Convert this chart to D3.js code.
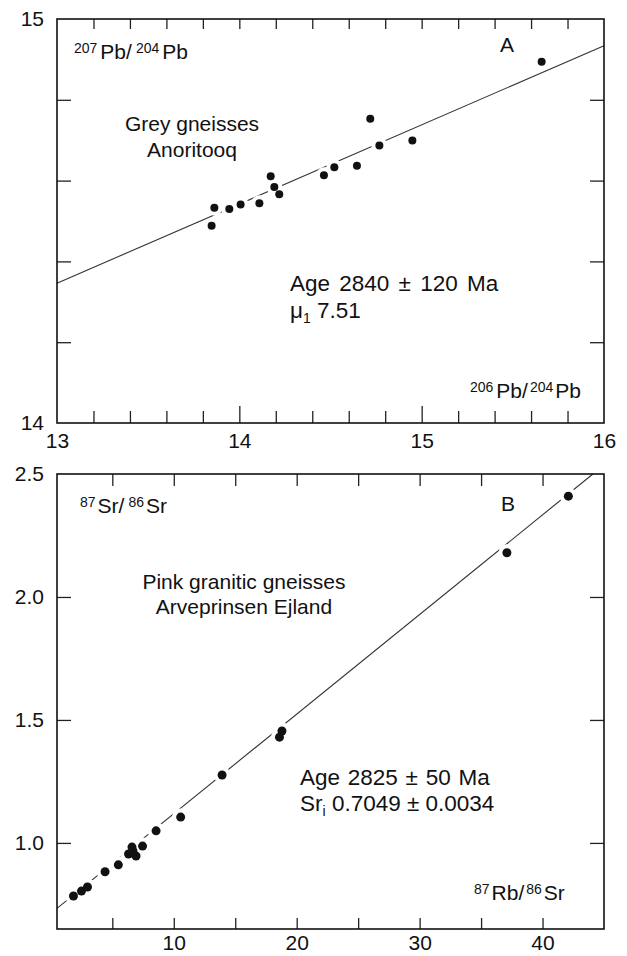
<!DOCTYPE html>
<html>
<head>
<meta charset="utf-8">
<script src="https://cdn.jsdelivr.net/npm/d3@7"></script>
<style>
  body { margin: 0; background: #fff; }
  svg { display: block; font-family: "Liberation Sans", Arial, sans-serif; }
</style>
</head>
<body>
<svg width="627" height="956"></svg>
<script>
// Panel A: 207Pb/204Pb vs 206Pb/204Pb
const pbX = [13.848, 13.863, 13.945, 14.007, 14.110, 14.172, 14.192, 14.219, 14.464, 14.521, 14.645, 14.718, 14.768, 14.949, 15.658];
const pbY = [14.488, 14.533, 14.530, 14.541, 14.544, 14.611, 14.584, 14.566, 14.613, 14.633, 14.637, 14.753, 14.687, 14.699, 14.894];
const pbLineX = [13, 16];
const pbLineY = [14.346, 14.934];
const pbXLabels = [13, 14, 15, 16];
const pbYLabels = [14, 15];

// Panel B: 87Sr/86Sr vs 87Rb/86Sr
const srX = [1.84, 2.49, 2.98, 4.41, 5.49, 6.32, 6.60, 6.93, 6.68, 7.46, 8.56, 10.56, 13.93, 18.6, 18.8, 37.1, 42.1];
const srY = [0.784, 0.804, 0.821, 0.883, 0.911, 0.955, 0.983, 0.947, 0.967, 0.987, 1.049, 1.105, 1.276, 1.43, 1.455, 2.18, 2.41];
const srLineX = [0.5, 44.1];
const srLineY = [0.734, 2.5];
const srXLabels = [10, 20, 30, 40];
const srYLabels = [1.0, 1.5, 2.0, 2.5];

const svg = d3.select("svg");
const left = 57, right = 604;

function richText(g, x, y, parts, opts) {
  opts = opts || {};
  const t = g.append("text")
    .attr("x", x).attr("y", y)
    .attr("font-size", opts.size || 21)
    .attr("fill", "#111")
    .attr("text-anchor", opts.anchor || "start");
  if (opts.ws) t.attr("word-spacing", opts.ws);
  let shift = 0;
  parts.forEach(p => {
    const s = t.append("tspan").text(p.t);
    let target = p.sup ? -6 : p.sub ? 5 : 0;
    s.attr("dy", target - shift);
    shift = target;
    if (p.sup || p.sub) s.attr("font-size", 14);
    if (p.dx) s.attr("dx", p.dx);
  });
  return t;
}

function panel(cfg) {
  const g = svg.append("g");
  const x = d3.scaleLinear().domain(cfg.xDomain).range([left, right]);
  const y = d3.scaleLinear().domain(cfg.yDomain).range([cfg.bottom, cfg.top]);
  const h = cfg.bottom - cfg.top;

  const tickStyle = sel => {
    sel.select(".domain").remove();
    sel.selectAll(".tick line").attr("stroke", "#222").attr("stroke-width", 1.3);
    sel.selectAll(".tick text").attr("font-size", 21).attr("fill", "#111")
      .attr("font-family", "Liberation Sans, Arial, sans-serif");
  };

  // inward ticks
  g.append("g").attr("transform", `translate(0,${cfg.bottom})`)
    .call(d3.axisBottom(x).tickValues(cfg.xMinor).tickSize(-cfg.bottomTick).tickFormat(""))
    .call(tickStyle);
  if (cfg.xMajor.length) {
    g.append("g").attr("transform", `translate(0,${cfg.bottom})`)
      .call(d3.axisBottom(x).tickValues(cfg.xMajor).tickSize(-cfg.bottomTick - 5).tickFormat(""))
      .call(tickStyle);
  }
  g.append("g").attr("transform", `translate(0,${cfg.top})`)
    .call(d3.axisTop(x).tickValues(cfg.xMinor.concat(cfg.xMajor)).tickSize(-cfg.topTick).tickFormat(""))
    .call(tickStyle);
  g.append("g").attr("transform", `translate(${left},0)`)
    .call(d3.axisLeft(y).tickValues(cfg.yTicks).tickSize(-14).tickFormat(""))
    .call(tickStyle);
  g.append("g").attr("transform", `translate(${right},0)`)
    .call(d3.axisRight(y).tickValues(cfg.yTicks).tickSize(-14).tickFormat(""))
    .call(tickStyle);

  // labels
  g.append("g").attr("transform", `translate(0,${cfg.bottom})`)
    .call(d3.axisBottom(x).tickValues(cfg.xLabels).tickSize(0).tickPadding(cfg.xPad).tickFormat(d3.format("d")))
    .call(tickStyle);
  g.append("g").attr("transform", `translate(${left},0)`)
    .call(d3.axisLeft(y).tickValues(cfg.yLabels).tickSize(0).tickPadding(13).tickFormat(cfg.yFormat))
    .call(tickStyle);

  // regression line
  g.append("line")
    .attr("x1", x(cfg.lineX[0])).attr("y1", y(cfg.lineY[0]))
    .attr("x2", x(cfg.lineX[1])).attr("y2", y(cfg.lineY[1]))
    .attr("stroke", "#333").attr("stroke-width", 1.1);

  const pts = cfg.xs.map((v, i) => [v, cfg.ys[i]]);
  // white gaps in the line around the dots
  g.selectAll(".halo").data(pts).enter().append("circle")
    .attr("cx", d => x(d[0])).attr("cy", d => y(d[1]))
    .attr("r", cfg.r + 4).attr("fill", "#fff");
  g.selectAll(".dot").data(pts).enter().append("circle")
    .attr("cx", d => x(d[0])).attr("cy", d => y(d[1]))
    .attr("r", cfg.r).attr("fill", "#111");

  // frame
  g.append("rect")
    .attr("x", left).attr("y", cfg.top).attr("width", right - left).attr("height", h)
    .attr("fill", "none").attr("stroke", "#111").attr("stroke-width", 1.6);

  return g;
}

const gA = panel({
  xDomain: [13, 16], yDomain: [14, 15], top: 19, bottom: 423,
  xMinor: d3.range(1, 15).filter(i => i % 5 !== 0).map(i => 13 + i * 0.2),
  xMajor: [14, 15], bottomTick: 12, topTick: 10,
  yTicks: [14.2, 14.4, 14.6, 14.8],
  xLabels: pbXLabels, yLabels: pbYLabels, yFormat: d3.format("d"), xPad: 10,
  lineX: pbLineX, lineY: pbLineY, xs: pbX, ys: pbY, r: 4
});

richText(gA, 74, 59, [{t: "207", sup: true}, {t: "Pb/", dx: 3}, {t: "204", sup: true, dx: 4}, {t: "Pb", dx: 3}]);
richText(gA, 507, 52, [{t: "A"}], {anchor: "middle"});
richText(gA, 192, 131, [{t: "Grey gneisses"}], {anchor: "middle"});
richText(gA, 192, 157, [{t: "Anoritooq"}], {anchor: "middle"});
richText(gA, 290, 291, [{t: "Age 2840 ± 120 Ma"}], {size: 22.5, ws: 3});
richText(gA, 290, 318, [{t: "μ"}, {t: "1", sub: true}, {t: " 7.51"}], {size: 22.5});
richText(gA, 470, 398, [{t: "206", sup: true}, {t: "Pb/", dx: 3}, {t: "204", sup: true, dx: 2}, {t: "Pb", dx: 2}]);

const gB = panel({
  xDomain: [0.5, 45], yDomain: [0.65, 2.5], top: 474, bottom: 929,
  xMinor: [5, 10, 15, 20, 25, 30, 35, 40],
  xMajor: [], bottomTick: 11, topTick: 12,
  yTicks: [1.0, 1.5, 2.0],
  xLabels: srXLabels, yLabels: srYLabels, yFormat: d3.format(".1f"), xPad: 6,
  lineX: srLineX, lineY: srLineY, xs: srX, ys: srY, r: 4.5
});

richText(gB, 80, 513, [{t: "87", sup: true}, {t: "Sr/", dx: 2}, {t: "86", sup: true, dx: 4}, {t: "Sr", dx: 2}]);
richText(gB, 508, 511, [{t: "B"}], {anchor: "middle"});
richText(gB, 244, 589, [{t: "Pink granitic gneisses"}], {anchor: "middle"});
richText(gB, 244, 614, [{t: "Arveprinsen Ejland"}], {anchor: "middle"});
richText(gB, 300, 785, [{t: "Age 2825 ± 50 Ma"}], {size: 22.5, ws: 1.5});
richText(gB, 300, 811, [{t: "Sr"}, {t: "i", sub: true}, {t: " 0.7049 ± 0.0034"}], {size: 22.5});
richText(gB, 474, 900, [{t: "87", sup: true}, {t: "Rb/", dx: 2}, {t: "86", sup: true, dx: 2}, {t: "Sr", dx: 2}]);
</script>
</body>
</html>
